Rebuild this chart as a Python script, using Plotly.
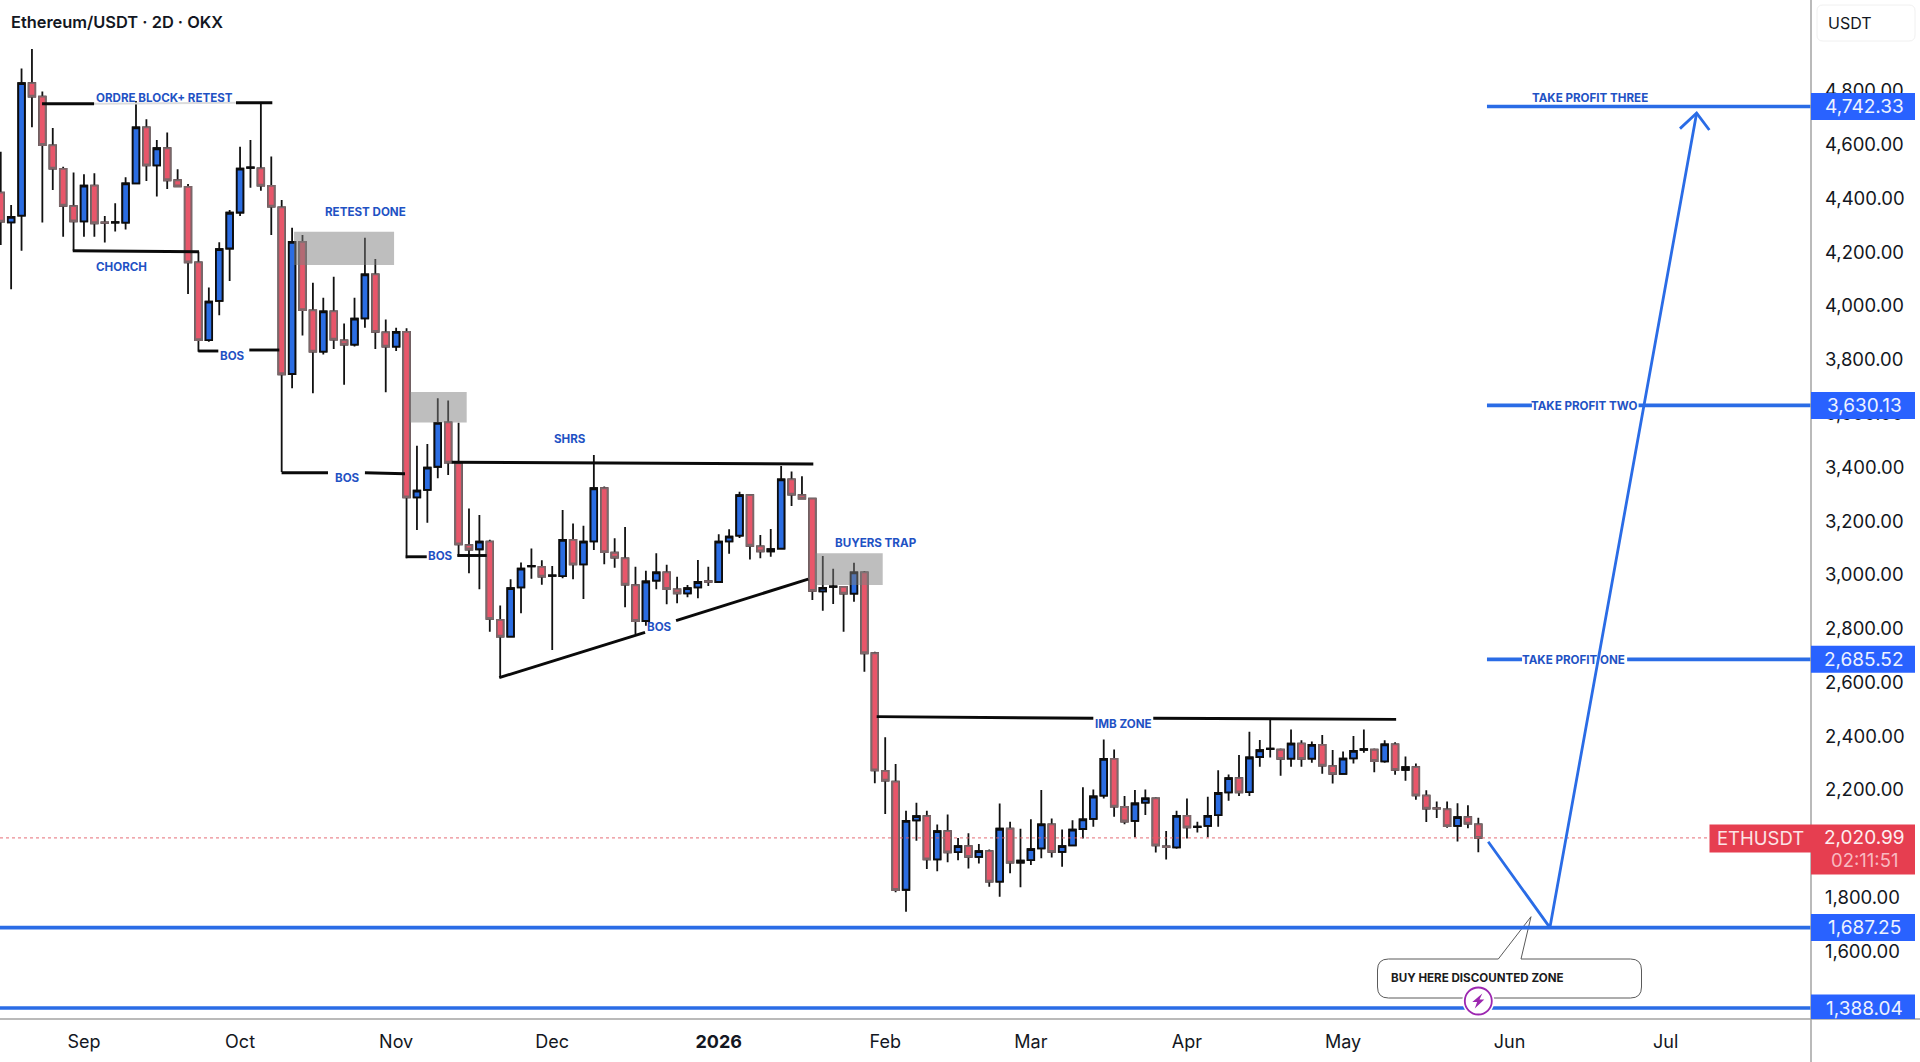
import pandas as pd
import plotly.graph_objects as go

# OHLC of ETH/USDT on the 2-day timeframe, oldest bar first
opens = [4422,4311,4336,4829,4779,4598,4510,4372,4315,4448,4311,4310,4310,4456,4665,4523,4587,4468,4443,4162,
         3873,4019,4214,4348,4514,4512,4447,4367,3747,4239,3984,3830,3980,3872,3856,3954,4118,3902,3849,3904,
         3288,3316,3402,3567,3415,3110,3095,3123,2832,2770,2953,3031,3029,2996,2995,3130,3039,3124,3322,3082,
         3061,2961,2828,2978,3009,2946,2931,2953,2976,2973,3124,3146,3296,3106,3087,3097,3355,3296,3283,2938,
         2955,2955,2930,3009,2708,2270,2230,1828,2086,2102,1941,2046,1968,1990,1950,1972,1858,2055,1929,1938,
         1982,2071,1969,1993,2054,2092,2178,2315,2136,2084,2152,2168,1989,1986,2103,2061,2066,2106,2190,2243,
         2191,2322,2351,2349,2316,2372,2316,2367,2288,2259,2317,2349,2349,2306,2369,2274,2284,2178,2132,2127,
         2066,2098,2071]
highs = [4574,4376,4884,4956,4798,4662,4518,4497,4490,4494,4335,4382,4479,4763,4695,4618,4646,4509,4454,4202,
         4069,4237,4357,4593,4618,4754,4556,4394,4291,4264,4087,4031,4109,3935,4031,4254,4175,3950,3919,3917,
         3480,3487,3657,3648,3566,3247,3222,3130,2886,2983,3046,3098,3054,3033,3241,3191,3182,3446,3328,3136,
         3178,3030,3015,3080,3037,2993,2962,3055,3030,3151,3169,3309,3297,3148,3170,3405,3384,3367,3284,3070,
         3022,2958,3045,3014,2714,2395,2296,2122,2152,2122,2071,2108,2021,2038,1998,1978,2149,2081,2055,2090,
         2199,2093,2052,2087,2209,2201,2387,2350,2177,2199,2201,2172,2047,2122,2168,2081,2174,2273,2257,2329,
         2416,2385,2462,2354,2424,2384,2380,2404,2348,2342,2400,2424,2354,2384,2377,2324,2298,2198,2156,2156,
         2150,2142,2096]
lows = [4227,4062,4206,4665,4311,4432,4258,4206,4258,4258,4236,4277,4285,4453,4465,4407,4435,4444,4045,3830,
        3867,3966,4093,4335,4440,4429,4264,3382,3694,3890,3675,3820,3840,3707,3849,3919,3840,3679,3833,3061,
        3167,3194,3359,3371,3068,3006,2946,2788,2618,2767,2857,2985,2963,2720,2987,2983,2910,3092,3039,3026,
        2879,2780,2810,2946,2890,2894,2916,2913,2958,2971,3078,3137,3057,3061,3067,3095,3256,3281,2906,2866,
        2891,2788,2900,2639,2224,2110,1819,1746,2010,1905,1897,1930,1938,1907,1926,1839,1802,1889,1837,1920,
        1945,1948,1914,1990,2019,2062,2168,2100,2072,2023,2106,1967,1941,1981,2019,2041,2023,2062,2159,2177,
        2177,2286,2320,2252,2286,2286,2301,2260,2223,2257,2298,2338,2265,2301,2256,2234,2163,2080,2095,2059,
        2008,2057,1968]
closes = [4314,4332,4829,4779,4599,4511,4373,4315,4448,4308,4309,4312,4456,4665,4523,4587,4468,4445,4162,3873,
          4016,4212,4347,4511,4516,4448,4370,3746,4239,3985,3830,3980,3875,3856,3953,4118,3904,3849,3904,3288,
          3313,3399,3565,3417,3113,3094,3123,2836,2770,2950,3023,3033,2993,2998,3130,3039,3123,3322,3084,3064,
          2963,2828,2975,3009,2947,2931,2950,2973,2974,3123,3142,3296,3108,3087,3095,3355,3298,3283,2940,2951,
          2957,2930,3009,2708,2272,2234,1827,2084,2102,1941,2046,1967,1990,1950,1972,1858,2055,1929,1936,1979,
          2071,1969,1990,2052,2090,2175,2315,2137,2082,2149,2168,1993,1987,2103,2060,2063,2103,2188,2243,2190,
          2320,2347,2353,2315,2372,2315,2367,2290,2259,2316,2345,2351,2307,2369,2274,2284,2179,2130,2130,2065,
          2098,2074,2020.99]

last_price = 2020.99
countdown = "02:11:51"
first_bar = pd.Timestamp("2025-08-16")
bar_days = 2

price_ticks = [1600,1800,2000,2200,2400,2600,2800,3000,3200,3400,3600,3800,4000,4200,4400,4600,4800]
month_dates = ["2025-09-01","2025-10-01","2025-10-31","2025-11-30","2026-01-01","2026-02-02",
               "2026-03-02","2026-04-01","2026-05-01","2026-06-02","2026-07-02"]
month_labels = ["Sep","Oct","Nov","Dec","<b>2026</b>","Feb","Mar","Apr","May","Jun","Jul"]

# Horizontal levels
buy_level = 1687.25
floor_level = 1388.04
tp_one = 2685.52
tp_two = 3630.13
tp_three = 4742.33

# Visible span, in bars and in price
view_bars = (-0.07, 173.97)
view_prices = (1347.1, 5138.6)

# Hand-drawn structure lines: ((bar, price), (bar, price))
black_segments = [
    ((3.97, 4752.8), (8.97, 4752.8)), ((22.61, 4756.5), (26.1, 4756.5)),
    ((6.92, 4205.8), (19.06, 4202)),
    ((18.99, 3832.6), (20.91, 3832.6)), ((23.89, 3836.3), (26.77, 3836.3)),
    ((26.99, 3379.8), (31.45, 3379.8)), ((35.0, 3379.8), (38.85, 3376)),
    ((38.92, 3067), (40.94, 3067)), ((43.88, 3071.7), (46.7, 3071.7)),
    ((43.34, 3418.5), (78.09, 3412)),
    ((47.91, 2617), (61.92, 2786)), ((64.9, 2829), (77.6, 2984)),
    ((84.18, 2472), (105.0, 2466)), ((110.76, 2466), (134.1, 2462)),
]
faint_segment = ((8.97, 4752.8), (22.61, 4756.5))

# Grey supply boxes: bar from, bar to, price low, price high
zones = [(28.19, 37.8, 4152.6, 4276.5), (39.33, 44.78, 3567, 3680), (78.25, 84.76, 2962, 3080)]

# Projected path and its arrow head
path_bars = [142.95, 148.88, 162.98]
path_prices = [2006.8, buy_level, 4718]
head_bars = [161.38, 162.98, 164.2]
head_prices = [4660, 4718, 4655]

tp_start = 142.83
tp_segments = [
    (tp_three, tp_start, view_bars[1]),
    (tp_two, tp_start, 147.15), (tp_two, 157.4, view_bars[1]),
    (tp_one, tp_start, 146.2), (tp_one, 156.3, view_bars[1]),
]

# Chart notes: text, bar, price
notes = [
    ("ORDRE BLOCK+ RETEST", 15.76, 4775), ("RETEST DONE", 35.08, 4348.6), ("CHORCH", 11.63, 4146),
    ("BOS", 22.32, 3815), ("BOS", 33.36, 3361.5), ("BOS", 42.31, 3068.7), ("SHRS", 54.68, 3505),
    ("BOS", 63.29, 2805.6), ("BUYERS TRAP", 84.08, 3119), ("IMB ZONE", 107.88, 2444.6),
    ("TAKE PROFIT THREE", 152.73, 4775), ("TAKE PROFIT TWO", 152.2, 3628), ("TAKE PROFIT ONE", 151.15, 2683),
]

WIDTH, HEIGHT = 1920, 1062
AXIS_X, AXIS_Y = 1811, 1019
BLUE = "#2a6ce6"
TAG_BLUE = "#2962ff"
TAG_RED = "#e63e50"
NOTE_BLUE = "#1f52c4"
FONT = "Inter, Roboto, sans-serif"


def bar_time(n):
    return first_bar + pd.Timedelta(days=bar_days * n)


def paper_x(px):
    return px / AXIS_X


def paper_y(py):
    return 1 - py / AXIS_Y


def rounded_path(x0, y0, x1, y1, r, pointer=None):
    """Closed rounded rectangle in page pixels, optionally with a speech-bubble pointer on top."""
    pts = [f"M {paper_x(x0 + r)} {paper_y(y0)}"]
    if pointer:
        for px, py in pointer:
            pts.append(f"L {paper_x(px)} {paper_y(py)}")
    pts += [
        f"L {paper_x(x1 - r)} {paper_y(y0)}",
        f"Q {paper_x(x1)} {paper_y(y0)} {paper_x(x1)} {paper_y(y0 + r)}",
        f"L {paper_x(x1)} {paper_y(y1 - r)}",
        f"Q {paper_x(x1)} {paper_y(y1)} {paper_x(x1 - r)} {paper_y(y1)}",
        f"L {paper_x(x0 + r)} {paper_y(y1)}",
        f"Q {paper_x(x0)} {paper_y(y1)} {paper_x(x0)} {paper_y(y1 - r)}",
        f"L {paper_x(x0)} {paper_y(y0 + r)}",
        f"Q {paper_x(x0)} {paper_y(y0)} {paper_x(x0 + r)} {paper_y(y0)}",
        "Z",
    ]
    return " ".join(pts)


dates = [bar_time(i) for i in range(len(opens))]
body_tops = [max(o, c) for o, c in zip(opens, closes)]
body_bottoms = [min(o, c) for o, c in zip(opens, closes)]

fig = go.Figure()

# Wicks first, in black, then the bodies with their own outlines on top
fig.add_trace(go.Candlestick(
    x=dates, open=opens, high=highs, low=lows, close=closes, whiskerwidth=0,
    increasing=dict(line=dict(color="#111111", width=1.8), fillcolor="#111111"),
    decreasing=dict(line=dict(color="#111111", width=1.8), fillcolor="#111111"),
    hoverinfo="skip", showlegend=False,
))
fig.add_trace(go.Candlestick(
    x=dates, open=opens, high=body_tops, low=body_bottoms, close=closes, whiskerwidth=0,
    increasing=dict(line=dict(color="#0c0c0c", width=1.8), fillcolor="#2b6de2"),
    decreasing=dict(line=dict(color="#7d6669", width=1.8), fillcolor="#e8566a"),
    hoverinfo="skip", showlegend=False,
))


def add_line(bars, prices, color, width, dash="solid"):
    fig.add_trace(go.Scatter(
        x=[bar_time(b) for b in bars], y=prices, mode="lines",
        line=dict(color=color, width=width, dash=dash),
        hoverinfo="skip", showlegend=False,
    ))


# Last-price guide
add_line(view_bars, [last_price, last_price], "rgba(226,90,100,0.7)", 1.1, "dot")

(a, b) = faint_segment
add_line([a[0], b[0]], [a[1], b[1]], "#dcdcdc", 2)
for a, b in black_segments:
    add_line([a[0], b[0]], [a[1], b[1]], "#0a0a0a", 2.9)

# Entry and target levels
add_line(view_bars, [buy_level, buy_level], BLUE, 3.7)
add_line(view_bars, [floor_level, floor_level], BLUE, 3.7)
for level, start, end in tp_segments:
    add_line([start, end], [level, level], BLUE, 3.7)

add_line(path_bars, path_prices, BLUE, 2.8)
add_line(head_bars, head_prices, BLUE, 2.8)

shapes = []
for b0, b1, p0, p1 in zones:
    shapes.append(dict(type="rect", xref="x", yref="y", x0=bar_time(b0), x1=bar_time(b1), y0=p0, y1=p1,
                       fillcolor="rgba(125,125,125,0.5)", line_width=0, layer="above"))

# Price-scale frame
shapes.append(dict(type="line", xref="paper", yref="paper", x0=1, x1=1, y0=paper_y(HEIGHT), y1=1,
                   line=dict(color="#a3a3a3", width=1.5), layer="above"))
shapes.append(dict(type="line", xref="paper", yref="paper", x0=0, x1=paper_x(WIDTH), y0=0, y1=0,
                   line=dict(color="#a3a3a3", width=1.5), layer="above"))

# Blue level tags on the price scale
annotations = []
for level in [tp_three, tp_two, tp_one, buy_level, floor_level]:
    shapes.append(dict(type="rect", xref="paper", yref="y", ysizemode="pixel", yanchor=level,
                       x0=1, x1=paper_x(1915), y0=-13.5, y1=13.5,
                       fillcolor=TAG_BLUE, line_width=0, layer="above"))
    annotations.append(dict(xref="paper", yref="y", x=paper_x(1864), y=level, text=f"{level:,.2f}",
                            showarrow=False, xanchor="center", yanchor="middle",
                            font=dict(family=FONT, size=19, color="#eef3ff")))

# Last-price tags: symbol on the left, price and countdown on the scale
shapes.append(dict(type="rect", xref="paper", yref="y", ysizemode="pixel", yanchor=last_price,
                   x0=paper_x(1709.5), x1=1, y0=-14.5, y1=13.5, fillcolor=TAG_RED, line_width=0, layer="above"))
shapes.append(dict(type="rect", xref="paper", yref="y", ysizemode="pixel", yanchor=last_price,
                   x0=1, x1=paper_x(1915), y0=-36.5, y1=13.5, fillcolor=TAG_RED, line_width=0, layer="above"))
annotations.append(dict(xref="paper", yref="y", x=paper_x(1760), y=last_price, text="ETHUSDT", showarrow=False,
                        font=dict(family=FONT, size=18.5, color="#fbe4e6"), xanchor="center", yanchor="middle"))
annotations.append(dict(xref="paper", yref="y", x=paper_x(1864), y=last_price, text=f"{last_price:,.2f}",
                        showarrow=False, font=dict(family=FONT, size=19, color="#fdeef0"),
                        xanchor="center", yanchor="middle"))
annotations.append(dict(xref="paper", yref="y", x=paper_x(1864), y=last_price, yshift=-22, text=countdown,
                        showarrow=False, font=dict(family=FONT, size=18.5, color="#f8b9c0"),
                        xanchor="center", yanchor="middle"))

# Currency button above the price scale
shapes.append(dict(type="path", xref="paper", yref="paper", path=rounded_path(1817, 5, 1915, 41, 6),
                   line=dict(color="#f0f0f0", width=1), fillcolor="white", layer="above"))
annotations.append(dict(xref="paper", yref="paper", x=paper_x(1850), y=paper_y(23), text="USDT", showarrow=False,
                        font=dict(family=FONT, size=16, color="#131722"), xanchor="center", yanchor="middle"))

# Speech bubble for the entry zone
shapes.append(dict(type="path", xref="paper", yref="paper", layer="below",
                   path=rounded_path(1377.5, 959, 1641.5, 998, 11,
                                     pointer=[(1498.3, 959), (1531, 916.7), (1521, 959)]),
                   line=dict(color="#5a5a5a", width=1), fillcolor="white"))
annotations.append(dict(xref="paper", yref="paper", x=paper_x(1389), y=paper_y(977.5),
                        text="BUY HERE DISCOUNTED ZONE", showarrow=False, xanchor="left", yanchor="middle",
                        font=dict(family=FONT, size=11.6, color="#1c1c1c", weight=700)))

# Alert badge on the lower level
cx, cy = 1478.3, 1001
shapes.append(dict(type="circle", xref="paper", yref="paper", layer="above",
                   x0=paper_x(cx - 16), x1=paper_x(cx + 16), y0=paper_y(cy + 16), y1=paper_y(cy - 16),
                   fillcolor="white", line_width=0))
shapes.append(dict(type="circle", xref="paper", yref="paper", layer="above",
                   x0=paper_x(cx - 13.5), x1=paper_x(cx + 13.5), y0=paper_y(cy + 13.5), y1=paper_y(cy - 13.5),
                   fillcolor="white", line=dict(color="#9c27b0", width=1.8)))
bolt = [(4, -7.5), (-6, 1), (-1.2, 1), (-3.5, 7.5), (6, -1.5), (1.2, -1.5)]
bolt_path = "M " + " L ".join(f"{paper_x(cx + dx)} {paper_y(cy + dy)}" for dx, dy in bolt) + " Z"
shapes.append(dict(type="path", xref="paper", yref="paper", path=bolt_path, fillcolor="#9c27b0",
                   line_width=0, layer="above"))

for text, bar, price in notes:
    annotations.append(dict(xref="x", yref="y", x=bar_time(bar), y=price, text=text, showarrow=False,
                            xanchor="center", yanchor="middle",
                            font=dict(family=FONT, size=11.6, color=NOTE_BLUE, weight=700)))

# Instrument title
annotations.append(dict(xref="paper", yref="paper", x=paper_x(9), y=paper_y(22),
                        text="Ethereum/USDT · 2D · OKX", showarrow=False, xanchor="left", yanchor="middle",
                        font=dict(family=FONT, size=16.4, color="#131722", weight=600)))

fig.update_layout(
    width=WIDTH, height=HEIGHT,
    margin=dict(l=0, r=WIDTH - AXIS_X, t=0, b=HEIGHT - AXIS_Y, pad=0),
    paper_bgcolor="white", plot_bgcolor="white",
    showlegend=False, boxgap=0.1, dragmode=False,
    font=dict(family=FONT, color="#131722"),
    shapes=shapes, annotations=annotations,
    xaxis=dict(
        type="date", range=[bar_time(view_bars[0]), bar_time(view_bars[1])],
        tickmode="array", tickvals=month_dates, ticktext=month_labels,
        showgrid=False, zeroline=False, showline=False, ticks="", rangeslider=dict(visible=False),
        tickfont=dict(family=FONT, size=18, color="#131722"), ticklabelstandoff=10, tickangle=0,
    ),
    yaxis=dict(
        side="right", range=list(view_prices), tickmode="array", tickvals=price_ticks, tickformat=",.2f",
        showgrid=False, zeroline=False, showline=False, ticks="",
        tickfont=dict(family=FONT, size=18.5, color="#131722"), ticklabelstandoff=13,
    ),
)

fig.write_html("out.html", config=dict(displayModeBar=False))
